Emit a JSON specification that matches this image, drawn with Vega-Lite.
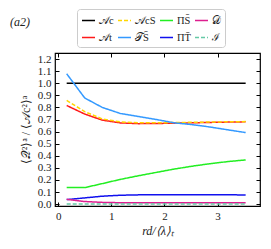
{
  "$schema": "https://vega.github.io/schema/vega-lite/v6.json",
  "autosize": "none",
  "width": 205,
  "height": 153,
  "padding": {"left": 55, "top": 53, "right": 11, "bottom": 43},
  "background": "white",
  "config": {
    "view": {"stroke": "black", "strokeWidth": 1.2},
    "font": "Liberation Serif",
    "axis": {"grid": false, "domain": false, "tickColor": "black", "labelColor": "#222", "titleColor": "#222", "labelFont": "Liberation Serif", "titleFont": "Liberation Serif", "labelFontSize": 11, "titleFontSize": 12, "titleFontWeight": "normal", "tickSize": -4, "tickWidth": 1}
  },
  "title": {"text": "(a2)", "anchor": "start", "frame": "group", "dx": -45, "dy": 20, "offset": 0, "font": "Liberation Serif", "fontStyle": "italic", "fontWeight": "normal", "fontSize": 12, "color": "#222"},
  "data": {"values": [
    {"s": "𝒜c", "x": 0.16, "y": 1.0}, {"s": "𝒜c", "x": 3.53, "y": 1.0},
    {"s": "𝒜t", "x": 0.16, "y": 0.816}, {"s": "𝒜t", "x": 0.50, "y": 0.745}, {"s": "𝒜t", "x": 0.83, "y": 0.695}, {"s": "𝒜t", "x": 1.17, "y": 0.672}, {"s": "𝒜t", "x": 1.51, "y": 0.666}, {"s": "𝒜t", "x": 1.85, "y": 0.667}, {"s": "𝒜t", "x": 2.18, "y": 0.670}, {"s": "𝒜t", "x": 2.52, "y": 0.673}, {"s": "𝒜t", "x": 2.86, "y": 0.676}, {"s": "𝒜t", "x": 3.19, "y": 0.679}, {"s": "𝒜t", "x": 3.53, "y": 0.681},
    {"s": "𝒜cS", "x": 0.16, "y": 0.858}, {"s": "𝒜cS", "x": 0.50, "y": 0.765}, {"s": "𝒜cS", "x": 0.83, "y": 0.705}, {"s": "𝒜cS", "x": 1.17, "y": 0.680}, {"s": "𝒜cS", "x": 1.51, "y": 0.674}, {"s": "𝒜cS", "x": 1.85, "y": 0.673}, {"s": "𝒜cS", "x": 2.18, "y": 0.675}, {"s": "𝒜cS", "x": 2.52, "y": 0.677}, {"s": "𝒜cS", "x": 2.86, "y": 0.679}, {"s": "𝒜cS", "x": 3.19, "y": 0.681}, {"s": "𝒜cS", "x": 3.53, "y": 0.683},
    {"s": "𝒯S̄", "x": 0.16, "y": 1.078}, {"s": "𝒯S̄", "x": 0.50, "y": 0.878}, {"s": "𝒯S̄", "x": 0.83, "y": 0.800}, {"s": "𝒯S̄", "x": 1.17, "y": 0.750}, {"s": "𝒯S̄", "x": 1.51, "y": 0.725}, {"s": "𝒯S̄", "x": 1.85, "y": 0.700}, {"s": "𝒯S̄", "x": 2.18, "y": 0.673}, {"s": "𝒯S̄", "x": 2.52, "y": 0.658}, {"s": "𝒯S̄", "x": 2.86, "y": 0.638}, {"s": "𝒯S̄", "x": 3.19, "y": 0.615}, {"s": "𝒯S̄", "x": 3.53, "y": 0.592},
    {"s": "ΠS̄", "x": 0.16, "y": 0.137}, {"s": "ΠS̄", "x": 0.50, "y": 0.137}, {"s": "ΠS̄", "x": 0.83, "y": 0.170}, {"s": "ΠS̄", "x": 1.17, "y": 0.205}, {"s": "ΠS̄", "x": 1.51, "y": 0.235}, {"s": "ΠS̄", "x": 1.85, "y": 0.263}, {"s": "ΠS̄", "x": 2.18, "y": 0.290}, {"s": "ΠS̄", "x": 2.52, "y": 0.314}, {"s": "ΠS̄", "x": 2.86, "y": 0.335}, {"s": "ΠS̄", "x": 3.19, "y": 0.352}, {"s": "ΠS̄", "x": 3.53, "y": 0.366},
    {"s": "ΠT̄", "x": 0.16, "y": 0.038}, {"s": "ΠT̄", "x": 0.50, "y": 0.052}, {"s": "ΠT̄", "x": 0.83, "y": 0.066}, {"s": "ΠT̄", "x": 1.17, "y": 0.074}, {"s": "ΠT̄", "x": 1.51, "y": 0.077}, {"s": "ΠT̄", "x": 1.85, "y": 0.078}, {"s": "ΠT̄", "x": 2.18, "y": 0.078}, {"s": "ΠT̄", "x": 2.52, "y": 0.079}, {"s": "ΠT̄", "x": 2.86, "y": 0.079}, {"s": "ΠT̄", "x": 3.19, "y": 0.078}, {"s": "ΠT̄", "x": 3.53, "y": 0.076},
    {"s": "𝒟", "x": 0.16, "y": 0.040}, {"s": "𝒟", "x": 0.50, "y": 0.022}, {"s": "𝒟", "x": 0.83, "y": 0.015}, {"s": "𝒟", "x": 1.17, "y": 0.012}, {"s": "𝒟", "x": 1.51, "y": 0.011}, {"s": "𝒟", "x": 1.85, "y": 0.011}, {"s": "𝒟", "x": 2.18, "y": 0.011}, {"s": "𝒟", "x": 2.52, "y": 0.011}, {"s": "𝒟", "x": 2.86, "y": 0.011}, {"s": "𝒟", "x": 3.19, "y": 0.011}, {"s": "𝒟", "x": 3.53, "y": 0.011},
    {"s": "ℐ", "x": 0.16, "y": 0.002}, {"s": "ℐ", "x": 3.53, "y": 0.002}
  ]},
  "layer": [
    {
      "mark": {"type": "line", "strokeWidth": 1.5},
      "encoding": {
        "x": {"field": "x", "type": "quantitative", "scale": {"domain": [-0.06, 3.8], "nice": false, "zero": false}, "axis": {"orient": "bottom", "values": [0, 1, 2, 3], "format": "d", "labelPadding": 8, "title": "rd/⟨λ⟩ₜ", "titleFontStyle": "italic", "titlePadding": 4}},
        "y": {"field": "y", "type": "quantitative", "scale": {"domain": [-0.015, 1.25], "nice": false, "zero": false}, "axis": {"orient": "left", "values": [0, 0.1, 0.2, 0.3, 0.4, 0.5, 0.6, 0.7, 0.8, 0.9, 1.0, 1.1, 1.2], "format": ".1f", "labelPadding": 8, "title": "⟨𝒬²⟩ᵃ / ⟨𝒜c²⟩ᵃ", "titlePadding": 5}},
        "color": {"field": "s", "type": "nominal", "sort": null,
          "scale": {"domain": ["𝒜c", "𝒜cS", "ΠS̄", "𝒟", "𝒜t", "𝒯S̄", "ΠT̄", "ℐ"], "range": ["#000000", "#ffd700", "#22ee22", "#dd1f8f", "#ff1a1a", "#3399ff", "#1010ee", "#66c9a6"]},
          "legend": {"title": null, "orient": "none", "legendX": 22, "legendY": -44, "columns": 4, "direction": "horizontal", "symbolType": "stroke", "symbolSize": 169, "symbolStrokeWidth": 1.5, "labelFont": "Liberation Serif", "labelFontSize": 10.5, "labelColor": "#222", "labelOffset": 3, "columnPadding": 1, "rowPadding": 4, "padding": 4, "strokeColor": "#cccccc", "fillColor": "white", "cornerRadius": 3}},
        "strokeDash": {"field": "s", "type": "nominal", "sort": null,
          "scale": {"domain": ["𝒜c", "𝒜cS", "ΠS̄", "𝒟", "𝒜t", "𝒯S̄", "ΠT̄", "ℐ"], "range": [[1, 0], [4, 2], [1, 0], [1, 0], [1, 0], [1, 0], [1, 0], [4, 2]]},
          "legend": {"title": null, "orient": "none", "legendX": 22, "legendY": -44, "columns": 4, "direction": "horizontal", "symbolType": "stroke", "symbolSize": 169, "symbolStrokeWidth": 1.5, "labelFont": "Liberation Serif", "labelFontSize": 10.5, "labelColor": "#222", "labelOffset": 3, "columnPadding": 1, "rowPadding": 4, "padding": 4, "strokeColor": "#cccccc", "fillColor": "white", "cornerRadius": 3}}
      }
    },
    {
      "mark": {"type": "line", "opacity": 0},
      "encoding": {
        "x": {"field": "x", "type": "quantitative", "axis": {"orient": "top", "values": [0, 1, 2, 3], "labels": false, "title": null}},
        "y": {"field": "y", "type": "quantitative", "axis": {"orient": "right", "values": [0, 0.1, 0.2, 0.3, 0.4, 0.5, 0.6, 0.7, 0.8, 0.9, 1.0, 1.1, 1.2], "labels": false, "title": null}},
        "detail": {"field": "s"}
      }
    }
  ]
}
